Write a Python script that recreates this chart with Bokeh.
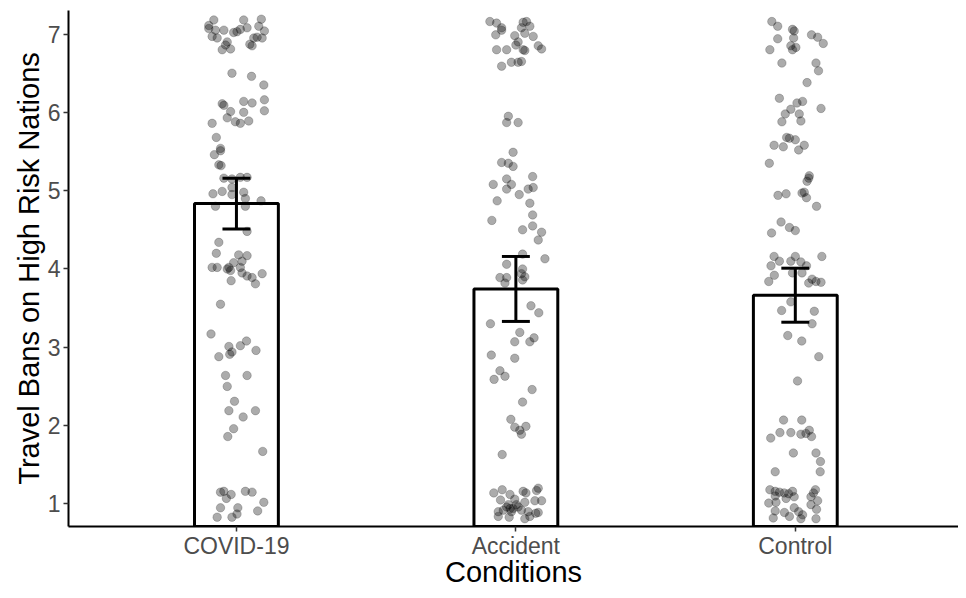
from bokeh.plotting import figure
from bokeh.models import Range1d, FixedTicker
from bokeh.embed import file_html
from bokeh.resources import INLINE

conditions = ["COVID-19", "Accident", "Control"]
cond_pos = [1, 2, 3]
means = [4.835, 3.745, 3.665]
ci_low = [4.51, 3.33, 3.32]
ci_high = [5.16, 4.16, 4.01]
y_ticks = [1, 2, 3, 4, 5, 6, 7]

covid_dx = [-0.081, 0.026, 0.089, -0.099, -0.075, -0.045, -0.010, 0.014, 0.038, 0.080, 0.100, -0.087,
            -0.069, -0.033, -0.039, -0.051, 0.002, 0.062, 0.092, 0.056, 0.074, -0.021, 0.048, -0.099,
            -0.016, 0.054, 0.098, -0.051, -0.045, 0.026, 0.056, 0.100, 0.100, -0.021, 0.026, -0.033,
            -0.004, 0.014, 0.044, -0.087, -0.072, -0.057, -0.057, -0.079, -0.063, -0.055, -0.045, -0.016,
            0.014, 0.038, -0.016, -0.084, -0.051, -0.016, 0.026, 0.032, 0.088, -0.075, 0.032, 0.038,
            -0.063, -0.072, 0.008, 0.038, -0.010, 0.020, -0.087, -0.069, -0.027, 0.014,
            -0.033, -0.021, 0.020, 0.038, 0.056, 0.092, 0.068, -0.019, -0.057, -0.091, -0.027, 0.014,
            0.036, -0.016, -0.024, -0.063, 0.070, -0.039, 0.038, -0.033, -0.007, -0.027, 0.068, 0.024,
            -0.010, -0.031, 0.094, -0.057, -0.045, -0.019, -0.036, 0.032, 0.098, -0.057, 0.005, 0.002,
            0.076, -0.069, -0.016, 0.056]
covid_y = [7.18, 7.18, 7.19, 7.07, 7.05, 7.05, 7.02, 7.06, 7.08, 7.10, 7.04, 6.97,
           6.95, 6.90, 6.86, 6.80, 7.03, 6.95, 6.95, 6.85, 6.96, 6.81, 6.87, 7.11,
           6.50, 6.46, 6.35, 6.11, 6.09, 6.14, 6.12, 6.16, 6.02, 6.01, 6.00, 5.93,
           5.88, 5.86, 5.89, 5.86, 5.68, 5.54, 5.51, 5.46, 5.33, 5.32, 5.16, 5.15,
           5.17, 5.17, 5.04, 4.96, 4.99, 4.95, 4.98, 4.90, 4.87, 4.80, 4.80, 4.48,
           4.34, 4.20, 4.18, 4.17, 4.08, 4.10, 4.02, 4.02, 4.02, 4.02,
           4.00, 3.98, 3.95, 3.91, 3.89, 3.94, 3.81, 3.85, 3.55, 3.17, 3.01, 3.02,
           3.08, 2.94, 2.91, 2.88, 2.96, 2.64, 2.64, 2.50, 2.31, 2.19, 2.19, 2.11,
           1.96, 1.86, 1.67, 1.15, 1.16, 1.12, 1.07, 1.16, 1.02, 0.95, 0.95, 0.87,
           0.91, 0.83, 0.83, 1.15]

accident_dx = [-0.093, -0.069, -0.051, -0.051, -0.072, 0.026, 0.038, 0.020, 0.050, -0.004, 0.032, 0.062,
               0.008, 0.000, 0.026, 0.032, 0.080, 0.092, -0.069, -0.033, -0.016, 0.008, 0.020, -0.051,
               -0.027, -0.033, 0.008, -0.010, -0.051, -0.027, -0.010, -0.033, 0.060, -0.081, -0.016, -0.033,
               0.044, 0.062, 0.012, -0.067, 0.050, 0.060, -0.086, 0.024, 0.060, 0.092, 0.080, 0.104,
               0.024, -0.033, 0.024,
               -0.057, -0.033, -0.039, 0.020, 0.032, 0.024, 0.054, 0.082, -0.091, 0.014, -0.004, 0.050,
               0.065, -0.088, -0.004, -0.057, -0.039, -0.078, 0.058, 0.024, -0.018, -0.004, 0.014, 0.036,
               0.020, -0.049,
               -0.079, -0.049, -0.021, 0.026, 0.036, 0.074, 0.080, -0.055, -0.004, 0.068, 0.092, 0.032,
               -0.033, -0.021, -0.010, 0.008, -0.063, -0.045, -0.016, 0.020, 0.044, 0.080, -0.063, -0.024,
               0.032, 0.050, 0.071, -0.027, 0.002]
accident_y = [7.16, 7.14, 7.08, 7.05, 6.99, 7.15, 7.16, 7.08, 7.10, 6.98, 7.01, 6.97,
              6.90, 6.86, 6.80, 6.79, 6.85, 6.81, 6.80, 6.80, 6.64, 6.64, 6.65, 6.59,
              5.95, 5.87, 5.87, 5.49, 5.36, 5.35, 5.31, 5.15, 5.18, 5.08, 5.08, 5.02,
              5.02, 5.04, 4.95, 4.87, 4.84, 4.69, 4.62, 4.50, 4.55, 4.47, 4.37, 4.13,
              4.19, 4.06, 4.00,
              3.89, 3.89, 3.82, 3.94, 3.90, 3.86, 3.53, 3.44, 3.30, 3.19, 3.07, 3.07,
              3.12, 2.90, 2.86, 2.70, 2.63, 2.59, 2.46, 2.30, 2.08, 1.98, 1.94, 1.99,
              1.89, 1.63,
              1.14, 1.18, 1.12, 1.16, 1.14, 1.17, 1.20, 1.05, 1.06, 1.04, 1.04, 1.02,
              0.96, 0.94, 0.94, 0.96, 0.90, 0.92, 0.90, 0.92, 0.90, 0.89, 0.84, 0.83,
              0.81, 0.84, 0.88, 0.99, 0.99]

control_dx = [-0.084, -0.063, -0.010, -0.004, -0.063, -0.006, 0.058, 0.080, 0.100, -0.091, -0.016, 0.002,
              -0.010, -0.048, 0.074, 0.083, 0.042, -0.057, 0.006, 0.026, 0.092, -0.016, -0.036, 0.014,
              -0.048, 0.020, -0.031, -0.021, 0.000, -0.076, -0.043, 0.032, 0.012, -0.093, 0.050, 0.048,
              0.042, -0.062, -0.033, 0.024, 0.032, 0.040, 0.076, -0.051, -0.021, 0.000, -0.085, -0.076,
              -0.057, -0.016, 0.000, 0.020, 0.095, -0.087, 0.040,
              -0.075, -0.095, -0.010, 0.024, 0.060, 0.074, 0.092, 0.048, -0.016, -0.049, 0.068, 0.060,
              -0.027, 0.023, 0.084, 0.008, -0.042, 0.023, -0.055, -0.016, 0.020, 0.038, 0.050, 0.058,
              -0.088, -0.007, 0.074, 0.090, -0.072, 0.089,
              -0.091, -0.072, -0.057, -0.040, -0.024, -0.010, -0.004, 0.072, 0.065, 0.056, -0.072, -0.095,
              -0.069, -0.033, 0.080, 0.056, -0.072, -0.039, -0.021, -0.004, 0.012, 0.026, 0.076, -0.079,
              0.020, 0.074]
control_y = [7.16, 7.10, 7.06, 7.04, 6.94, 6.95, 6.99, 6.96, 6.88, 6.80, 6.85, 6.83,
             6.80, 6.63, 6.63, 6.53, 6.38, 6.18, 6.12, 6.14, 6.05, 6.04, 5.98, 5.98,
             5.88, 5.89, 5.68, 5.67, 5.65, 5.58, 5.56, 5.58, 5.52, 5.35, 5.19, 5.16,
             5.12, 4.94, 4.96, 4.97, 4.98, 4.91, 4.80, 4.60, 4.53, 4.49, 4.46, 4.16,
             4.10, 4.10, 4.16, 4.09, 4.16, 4.04, 4.04,
             3.92, 3.84, 3.95, 3.95, 3.87, 3.84, 3.83, 3.82, 3.58, 3.47, 3.46, 3.30,
             3.15, 3.08, 2.88, 2.57, 2.07, 2.07, 1.91, 1.91, 1.89, 1.90, 1.94, 1.86,
             1.84, 1.65, 1.65, 1.54, 1.41, 1.41,
             1.18, 1.16, 1.15, 1.14, 1.13, 1.16, 1.09, 1.18, 1.14, 1.09, 1.10, 1.01,
             1.02, 1.07, 1.04, 0.99, 0.91, 0.89, 0.84, 0.95, 0.90, 0.86, 0.93, 0.82,
             0.81, 0.81]

x_title = "Conditions"
y_title = "Travel Bans on High Risk Nations"

FONT = "Liberation Sans"

p = figure(width=958, height=590, output_backend="svg", toolbar_location=None,
           x_range=Range1d(0.399, 3.584), y_range=Range1d(0.711, 7.301),
           min_border_left=68, min_border_right=0, min_border_top=10, min_border_bottom=0)
p.outline_line_color = None
p.xgrid.visible = False
p.ygrid.visible = False
p.background_fill_color = "white"
p.border_fill_color = "white"

# bars
p.vbar(x=cond_pos, top=means, bottom=0, width=0.3, fill_color="white",
       line_color="black", line_width=3)

# jittered points
px, py = [], []
for c, dx, ys in zip(cond_pos, [covid_dx, accident_dx, control_dx], [covid_y, accident_y, control_y]):
    for d, v in zip(dx, ys):
        px.append(c + d)
        py.append(v)
p.scatter(x=px, y=py, size=8.5, fill_color="black", fill_alpha=0.33,
          line_color="black", line_alpha=0.33, line_width=0.6)

# error bars
p.segment(x0=cond_pos, x1=cond_pos, y0=ci_low, y1=ci_high, line_color="black", line_width=3)
p.segment(x0=[c - 0.05 for c in cond_pos], x1=[c + 0.05 for c in cond_pos], y0=ci_low, y1=ci_low,
          line_color="black", line_width=3)
p.segment(x0=[c - 0.05 for c in cond_pos], x1=[c + 0.05 for c in cond_pos], y0=ci_high, y1=ci_high,
          line_color="black", line_width=3)

# axes
p.xaxis.ticker = FixedTicker(ticks=cond_pos)
p.xaxis.major_label_overrides = {c: n for c, n in zip(cond_pos, conditions)}
p.yaxis.ticker = FixedTicker(ticks=y_ticks)
for ax in (p.xaxis, p.yaxis):
    ax.axis_line_color = "black"
    ax.axis_line_width = 2
    ax.major_tick_line_color = "#333333"
    ax.major_tick_line_width = 1.5
    ax.major_tick_in = 0
    ax.major_tick_out = 5
    ax.minor_tick_line_color = None
    ax.major_label_text_font = FONT
    ax.major_label_text_font_size = "23px"
    ax.major_label_text_color = "#4d4d4d"
    ax.axis_label_text_font = FONT
    ax.axis_label_text_font_size = "29px"
    ax.axis_label_text_font_style = "normal"
    ax.axis_label_text_color = "black"
p.xaxis.axis_label = x_title
p.yaxis.axis_label = y_title
p.xaxis.major_label_standoff = 1
p.xaxis.axis_label_standoff = -6
p.yaxis.major_label_standoff = 3
p.yaxis.axis_label_standoff = 0

open("out.html", "w").write(file_html(p, INLINE))
